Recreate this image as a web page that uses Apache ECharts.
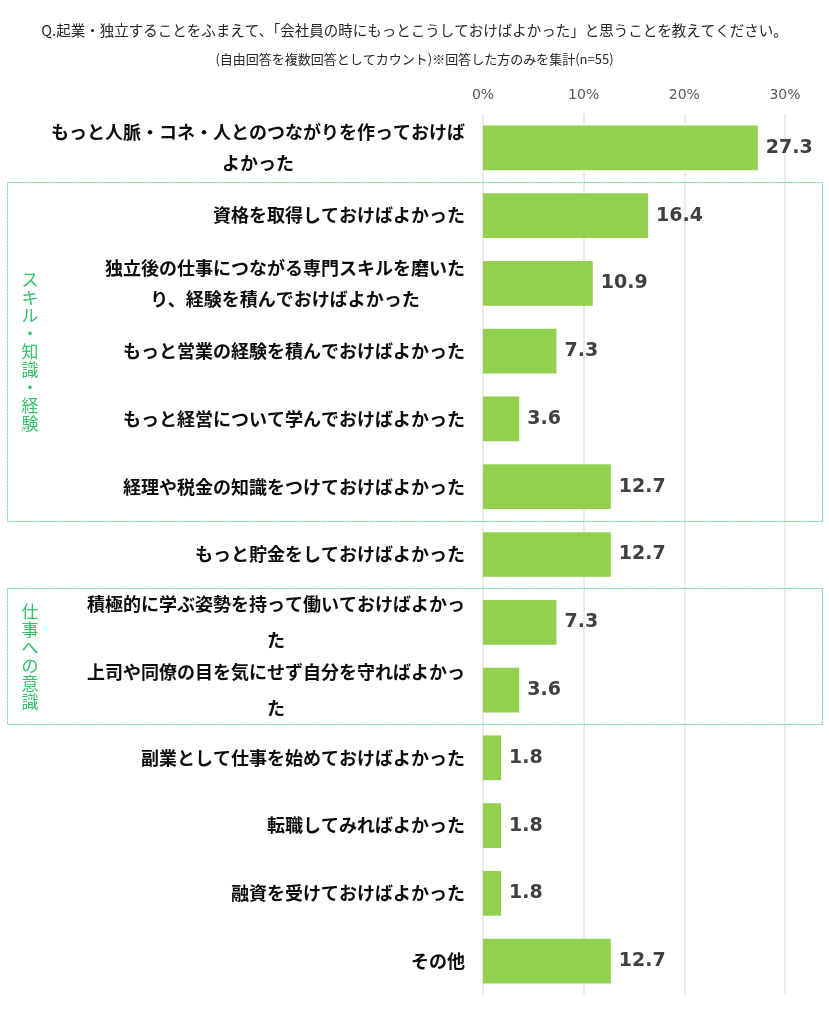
<!DOCTYPE html>
<html>
<head>
<meta charset="utf-8">
<style>
  html, body { margin: 0; padding: 0; background: #fff; }
  #chart { width: 829px; height: 1024px; }
</style>
<script src="https://cdn.jsdelivr.net/npm/echarts@6/dist/echarts.min.js"></script>
</head>
<body>
<div id="chart"></div>
<script>
const titleText = 'Q.起業・独立することをふまえて、「会社員の時にもっとこうしておけばよかった」と思うことを教えてください。'
const subText = '(自由回答を複数回答としてカウント)※回答した方のみを集計(n=55)'

const categories = [
  'もっと人脈・コネ・人とのつながりを作っておけば\nよかった',
  '資格を取得しておけばよかった',
  '独立後の仕事につながる専門スキルを磨いた\nり、経験を積んでおけばよかった',
  'もっと営業の経験を積んでおけばよかった',
  'もっと経営について学んでおけばよかった',
  '経理や税金の知識をつけておけばよかった',
  'もっと貯金をしておけばよかった',
  '積極的に学ぶ姿勢を持って働いておけばよかっ\nた',
  '上司や同僚の目を気にせず自分を守ればよかっ\nた',
  '副業として仕事を始めておけばよかった',
  '転職してみればよかった',
  '融資を受けておけばよかった',
  'その他'
]
const values = [27.3, 16.4, 10.9, 7.3, 3.6, 12.7, 12.7, 7.3, 3.6, 1.8, 1.8, 1.8, 12.7]
const xTicks = [0, 10, 20, 30]

// group boxes: label, first and last category index
const groups = [
  { name: 'スキル・知識・経験', from: 1, to: 5 },
  { name: '仕事への意識', from: 7, to: 8 }
]

const green = '#92D050'
const boxColor = '#62d48f'
const groupTextColor = '#33c26a'

const chart = echarts.init(document.getElementById('chart'))

const labelFont = '"Noto Sans CJK JP", sans-serif'

chart.setOption({
  animation: false,
  title: [{
    text: titleText,
    left: 'center',
    top: 18,
    textStyle: { fontFamily: labelFont, fontSize: 14.5, fontWeight: 'normal', color: '#262626' }
  }, {
    text: subText,
    left: 'center',
    top: 48,
    textStyle: { fontFamily: labelFont, fontSize: 13, fontWeight: 'normal', color: '#262626' }
  }],
  grid: { left: 483, right: 44, top: 114, height: 881 },
  xAxis: {
    type: 'value',
    position: 'top',
    min: xTicks[0],
    max: xTicks[xTicks.length - 1],
    interval: 10,
    axisLine: { show: false },
    axisTick: { show: false },
    axisLabel: {
      formatter: v => v + '%',
      fontFamily: '"DejaVu Sans", sans-serif',
      fontSize: 14,
      color: '#595959',
      margin: 12
    },
    splitLine: { show: true, lineStyle: { color: '#e6e6e6', width: 1.5 } }
  },
  yAxis: {
    type: 'category',
    inverse: true,
    data: categories,
    axisLine: { show: false },
    axisTick: { show: false },
    axisLabel: {
      margin: 18,
      fontFamily: labelFont,
      fontSize: 18,
      fontWeight: 'bold',
      color: '#0d0d0d',
      formatter: (v, i) => {
        if (v.indexOf('\n') < 0) return v
        const key = i >= 7 ? 'b' : 'a'
        return v.split('\n').map(s => '{' + key + '|' + s + '}').join('\n')
      },
      rich: {
        a: { align: 'center', lineHeight: 31, fontFamily: labelFont, fontSize: 18, fontWeight: 'bold', color: '#0d0d0d' },
        b: { align: 'center', lineHeight: 36, fontFamily: labelFont, fontSize: 18, fontWeight: 'bold', color: '#0d0d0d' }
      }
    }
  },
  series: [{
    type: 'bar',
    data: values,
    barWidth: '66%',
    itemStyle: { color: green },
    label: {
      show: true,
      position: 'right',
      distance: 8,
      formatter: p => p.value.toFixed(1),
      fontFamily: '"DejaVu Sans", sans-serif',
      fontSize: 19,
      fontWeight: 'bold',
      color: '#404040'
    }
  }]
})

// dashed group boxes and vertical group titles, placed from the category axis
const half = (chart.convertToPixel({ yAxisIndex: 0 }, 1) - chart.convertToPixel({ yAxisIndex: 0 }, 0)) / 2
const elements = []
groups.forEach(g => {
  const top = chart.convertToPixel({ yAxisIndex: 0 }, g.from) - half
  const bottom = chart.convertToPixel({ yAxisIndex: 0 }, g.to) + half
  elements.push({
    type: 'rect',
    shape: { x: 7.5, y: Math.round(top) + 0.5, width: 815, height: Math.round(bottom - top) },
    style: { fill: null, stroke: boxColor, lineWidth: 1, lineDash: [2, 1] },
    silent: true
  })
  elements.push({
    type: 'text',
    x: 30,
    y: (top + bottom) / 2,
    style: {
      text: g.name.split('').join('\n'),
      fontFamily: labelFont,
      fontSize: 17,
      lineHeight: 18,
      fill: groupTextColor,
      align: 'center',
      verticalAlign: 'middle'
    },
    silent: true
  })
})
chart.setOption({ graphic: elements })
</script>
</body>
</html>
